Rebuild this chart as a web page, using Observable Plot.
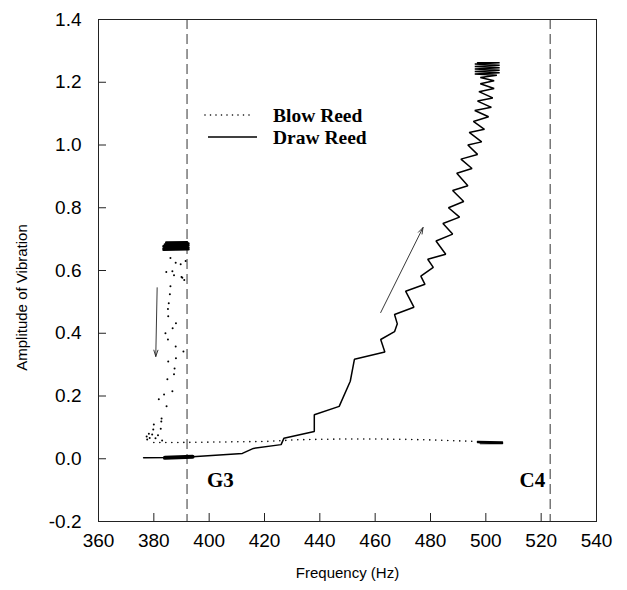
<!DOCTYPE html>
<html><head><meta charset="utf-8">
<script src="https://cdn.jsdelivr.net/npm/d3@7"></script>
<script src="https://cdn.jsdelivr.net/npm/@observablehq/plot@0.6"></script>
<style>
body{margin:0;background:#fff;}
#wrap{position:relative;width:627px;height:590px;}
#legend{position:absolute;left:0;top:0;pointer-events:none;}
</style></head><body><div id="wrap"></div>
<script>
// ---- tick values ----
const xTicks = [360, 380, 400, 420, 440, 460, 480, 500, 520, 540];
const yTicks = [-0.2, 0, 0.2, 0.4, 0.6, 0.8, 1.0, 1.2, 1.4];

// ---- note markers ----
const noteNames = ["G3", "C4"];
const noteFreq = [392, 523.25];

// ---- Draw Reed (solid) ----
const drawFreq = [376.3, 386, 394, 412, 416, 426, 427, 438, 438, 447, 451, 452.5,
  463.5, 462, 467, 468, 467, 474, 471, 478, 476.5, 481, 479, 485.5, 482, 488, 484.5, 490.5,
  486.5, 492, 488, 493.5, 489.5, 495, 491, 497, 493.5, 498.5, 494, 499.5, 495.5, 501, 496,
  502, 497, 502.5, 497.5, 503, 498, 503, 498, 504, 496, 505, 496, 505, 496, 505, 496, 505, 496, 505, 497];
const drawAmp = [0.003, 0.004, 0.006, 0.017, 0.033, 0.045, 0.065, 0.087, 0.14, 0.167, 0.247, 0.317,
  0.34, 0.38, 0.405, 0.43, 0.46, 0.483, 0.534, 0.556, 0.582, 0.61, 0.636, 0.652, 0.694, 0.716, 0.75, 0.77,
  0.80, 0.82, 0.855, 0.87, 0.91, 0.925, 0.955, 0.97, 1.0, 1.01, 1.04, 1.05, 1.075, 1.09, 1.11,
  1.12, 1.14, 1.15, 1.17, 1.18, 1.195, 1.205, 1.215, 1.222, 1.226, 1.23, 1.234, 1.238, 1.242, 1.246, 1.25, 1.254, 1.258, 1.262, 1.262];
// thick start of draw reed
const drawThickFreq = [384, 394];
const drawThickAmp = [0.003, 0.006];

// ---- Blow Reed (dotted) ----
const blowFlatFreq = [380, 390, 400, 410, 420, 427, 430, 440, 450, 460, 470, 480, 490, 497];
const blowFlatAmp = [0.052, 0.052, 0.053, 0.054, 0.055, 0.058, 0.06, 0.062, 0.063, 0.063, 0.062, 0.06, 0.057, 0.055];
const blowEndFreq = [497, 506, 497, 506, 498, 506];
const blowEndAmp = [0.055, 0.053, 0.052, 0.05, 0.049, 0.049];
const blowScatFreq = [384.5, 386.7, 387.3, 390, 391, 386, 385.8, 385.4, 385.1, 385.2, 388, 386.8, 384.2,
  385.1, 387.9, 390.7, 385.2, 388, 387.5, 387.3, 384.9, 386.7, 383.7, 381.8, 384.6, 382.8, 382.7, 380,
  382.5, 379.8, 378.2, 379.4, 377.4, 380.6, 377.6, 386, 387.9, 389.7, 391.5, 390.3, 383, 378.5, 381.5];
const blowScatAmp = [0.595, 0.598, 0.585, 0.579, 0.57, 0.55, 0.524, 0.496, 0.477, 0.454, 0.432, 0.416, 0.4,
  0.38, 0.358, 0.342, 0.31, 0.32, 0.288, 0.269, 0.253, 0.215, 0.205, 0.19, 0.167, 0.128, 0.119, 0.109,
  0.096, 0.093, 0.08, 0.077, 0.071, 0.065, 0.061, 0.64, 0.625, 0.62, 0.63, 0.577, 0.058, 0.066, 0.075];
const blowBlobFreq = [383.5, 392.5, 383.5, 392.5, 383.5, 392.5, 384, 392.5, 384.5, 392];
const blowBlobAmp = [0.666, 0.668, 0.671, 0.674, 0.677, 0.68, 0.683, 0.686, 0.689, 0.69];

// ---- arrows ----
const arrowX1 = [462, 381.2];
const arrowY1 = [0.466, 0.545];
const arrowX2 = [477.3, 380.7];
const arrowY2 = [0.737, 0.326];

const zip = (xs, ys) => xs.map((x, i) => ({x, y: ys[i]}));
const draw = zip(drawFreq, drawAmp);
const drawThick = zip(drawThickFreq, drawThickAmp);
const blowFlat = zip(blowFlatFreq, blowFlatAmp);
const blowEnd = zip(blowEndFreq, blowEndAmp);
const blowScat = zip(blowScatFreq, blowScatAmp);
const blowBlob = zip(blowBlobFreq, blowBlobAmp);
const arrows = arrowX1.map((x1, i) => ({x1, y1: arrowY1[i], x2: arrowX2[i], y2: arrowY2[i]}));
const notes = noteNames.map((name, i) => ({name, freq: noteFreq[i]}));

const serif = "'Liberation Serif', 'Times New Roman', serif";

const chart = Plot.plot({
  width: 627, height: 590,
  marginLeft: 98, marginRight: 31, marginTop: 19, marginBottom: 69,
  x: {domain: [360, 540]},
  y: {domain: [-0.2, 1.4]},
  style: {fontFamily: "'Liberation Sans', Arial, sans-serif", fontSize: "19px", color: "#000", background: "#fff", overflow: "visible"},
  marks: [
    Plot.ruleX(notes, {x: "freq", stroke: "#333", strokeDasharray: "10,5", strokeWidth: 1}),
    Plot.frame({stroke: "#222", strokeWidth: 1}),
    Plot.axisX({ticks: xTicks, tickSize: -8, tickFormat: () => "", label: null, stroke: "#222"}),
    Plot.axisX({ticks: xTicks, tickSize: 0, tickPadding: 12, tickFormat: d => String(d), label: null, fill: "#000"}),
    Plot.axisY({ticks: yTicks, tickSize: -8, tickFormat: () => "", label: null, stroke: "#222"}),
    Plot.axisY({ticks: yTicks, tickSize: 0, tickPadding: 17, tickFormat: d => d.toFixed(1), label: null, fill: "#000"}),
    Plot.line(blowFlat, {x: "x", y: "y", stroke: "#000", strokeWidth: 1.6, strokeDasharray: "0,6", strokeLinecap: "round"}),
    Plot.line(blowEnd, {x: "x", y: "y", stroke: "#000", strokeWidth: 1.6}),
    Plot.dot(blowScat, {x: "x", y: "y", r: 1, fill: "#000", stroke: null}),
    Plot.line(blowBlob, {x: "x", y: "y", stroke: "#000", strokeWidth: 2.6}),
    Plot.line(draw, {x: "x", y: "y", stroke: "#000", strokeWidth: 1.5, strokeLinejoin: "miter"}),
    Plot.line(drawThick, {x: "x", y: "y", stroke: "#000", strokeWidth: 4}),
    Plot.arrow(arrows, {x1: "x1", y1: "y1", x2: "x2", y2: "y2", stroke: "#222", strokeWidth: 0.9, headLength: 11, headAngle: 36}),
    Plot.text(notes.filter(d => d.name === "G3"), {x: "freq", text: "name", frameAnchor: "bottom", dy: -35, dx: 20, textAnchor: "start", fontFamily: serif, fontWeight: "bold", fontSize: 21}),
    Plot.text(notes.filter(d => d.name === "C4"), {x: "freq", text: "name", frameAnchor: "bottom", dy: -35, dx: -5, textAnchor: "end", fontFamily: serif, fontWeight: "bold", fontSize: 21}),
    Plot.text(["Frequency (Hz)"], {text: d => d, frameAnchor: "bottom", dy: 56, fontSize: 15, textAnchor: "middle"}),
    Plot.text(["Amplitude of Vibration"], {text: d => d, frameAnchor: "left", dx: -76, dy: 27, rotate: -90, fontSize: 15, textAnchor: "middle"})
  ]
});
const wrap = document.getElementById("wrap");
wrap.appendChild(chart);

// ---- legend (inside plot area, overlay) ----
const legendNames = ["Blow Reed", "Draw Reed"];
const ns = "http://www.w3.org/2000/svg";
const lg = document.createElementNS(ns, "svg");
lg.setAttribute("id", "legend");
lg.setAttribute("width", 627);
lg.setAttribute("height", 590);
const rows = [{y: 115, dash: "0,5.5", x1: 205, x2: 252}, {y: 137, dash: null, x1: 208, x2: 257}];
rows.forEach((r, i) => {
  const ln = document.createElementNS(ns, "line");
  ln.setAttribute("x1", r.x1); ln.setAttribute("x2", r.x2);
  ln.setAttribute("y1", r.y); ln.setAttribute("y2", r.y);
  ln.setAttribute("stroke", "#000");
  ln.setAttribute("stroke-width", r.dash ? 1.6 : 1.5);
  if (r.dash) { ln.setAttribute("stroke-dasharray", r.dash); ln.setAttribute("stroke-linecap", "round"); }
  lg.appendChild(ln);
  const t = document.createElementNS(ns, "text");
  t.setAttribute("x", 273); t.setAttribute("y", r.y + 6.5);
  t.setAttribute("font-family", serif);
  t.setAttribute("font-weight", "bold");
  t.setAttribute("font-size", 19.5);
  t.textContent = legendNames[i];
  lg.appendChild(t);
});
wrap.appendChild(lg);
</script>
</body></html>
